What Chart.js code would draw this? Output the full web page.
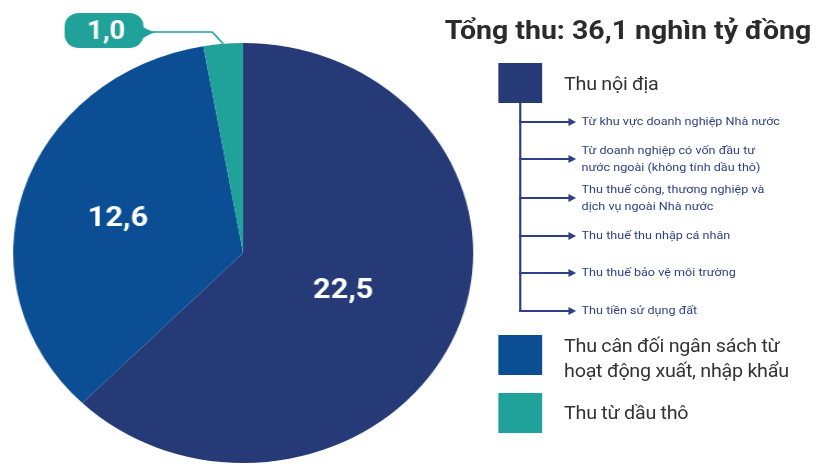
<!DOCTYPE html>
<html lang="vi">
<head>
<meta charset="utf-8">
<script src="https://cdn.jsdelivr.net/npm/chart.js@4.4.1/dist/chart.umd.min.js"></script>
<style>
  html, body { margin: 0; padding: 0; background: #ffffff; }
  body { width: 816px; height: 471px; overflow: hidden; }
  /* The whole layout is laid out on a 745px-wide stage and widened to 816px. */
  #stage {
    position: absolute; left: 0; top: 0;
    width: 745px; height: 471px;
    transform: scaleX(1.0953); transform-origin: 0 0;
    font-family: Roboto, "Noto Sans", sans-serif;
    filter: blur(0.35px);
  }
  #pieBox { position: absolute; left: 0; top: 0; width: 445px; height: 471px; }
  #title {
    position: absolute; left: 406px; top: 17px; white-space: nowrap;
    font-size: 26px; font-weight: 700; line-height: 1; color: #2b2b2b;
  }
  .swatch { position: absolute; width: 40px; height: 40px; }
  .main { position: absolute; left: 515px; color: #333333; font-size: 18px; letter-spacing: -0.25px; line-height: 25px; white-space: nowrap; }
  .sub { position: absolute; left: 531px; color: #2d3f85; font-size: 11.5px; line-height: 16px; white-space: nowrap; }
  .tree-v { position: absolute; left: 474px; top: 102px; width: 2px; background: #2d3f85; }
  .tree-h { position: absolute; left: 474px; height: 2px; width: 46px; background: #2d3f85; }
  .tree-h::after {
    content: ""; position: absolute; right: -6px; top: -3px;
    border-left: 7px solid #2d3f85; border-top: 4px solid transparent; border-bottom: 4px solid transparent;
  }
</style>
</head>
<body>
<div id="stage">
  <div id="pieBox"><canvas id="pie"></canvas></div>
  <div id="title"></div>
  <div id="legend"></div>
</div>
<script>
// Revenue breakdown, thousand billion VND
const categories = ['Thu nội địa', 'Thu cân đối ngân sách từ hoạt động xuất, nhập khẩu', 'Thu từ dầu thô'];
const categoryLines = [['Thu nội địa'], ['Thu cân đối ngân sách từ', 'hoạt động xuất, nhập khẩu'], ['Thu từ dầu thô']];
const revenue = [22.5, 12.6, 1.0];
const sliceColors = ['#263a78', '#0b4e94', '#20a29b'];
// Components of domestic revenue listed under the first legend entry
const domesticItems = [
  ['Từ khu vực doanh nghiệp Nhà nước'],
  ['Từ doanh nghiệp có vốn đầu tư', 'nước ngoài (không tính dầu thô)'],
  ['Thu thuế công, thương nghiệp và', 'dịch vụ ngoài Nhà nước'],
  ['Thu thuế thu nhập cá nhân'],
  ['Thu thuế bảo vệ môi trường'],
  ['Thu tiền sử dụng đất']
];

const fmt = v => v.toFixed(1).replace('.', ',');
const total = revenue.reduce((a, b) => a + b, 0);
document.getElementById('title').textContent = 'Tổng thu: ' + fmt(total) + ' nghìn tỷ đồng';

// ---- legend ----
const legend = document.getElementById('legend');
function add(tag, cls, style, text) {
  const el = document.createElement(tag);
  el.className = cls;
  Object.assign(el.style, style);
  if (text !== undefined) el.innerHTML = text;
  legend.appendChild(el);
  return el;
}
const swatchTops = [63, 335, 393];
const mainTops = [71, 333, 400];
categoryLines.forEach((lines, i) => {
  add('div', 'swatch', { left: '455px', top: swatchTops[i] + 'px', background: sliceColors[i] });
  add('div', 'main', { top: mainTops[i] + 'px' }, lines.join('<br>'));
});
const branchY = [122, 159, 198, 236, 273, 311];
add('div', 'tree-v', { height: (branchY[branchY.length - 1] - 102 + 1) + 'px' });
domesticItems.forEach((lines, i) => {
  const y = branchY[i];
  add('div', 'tree-h', { top: (y - 1) + 'px' });
  const h = lines.length * 16.5;
  add('div', 'sub', { top: (y - h / 2 - 0.5) + 'px', lineHeight: '16.5px' }, lines.join('<br>'));
});

// ---- value labels and the callout for the small slice ----
const sliceLabels = {
  id: 'sliceLabels',
  afterDatasetsDraw(chart, args, opts) {
    const ctx = chart.ctx;
    const meta = chart.getDatasetMeta(0);
    const values = chart.data.datasets[0].data;
    meta.data.forEach((arc, i) => {
      const p = arc.getProps(['x', 'y', 'startAngle', 'endAngle', 'outerRadius'], true);
      const mid = (p.startAngle + p.endAngle) / 2;
      const text = fmt(values[i]);
      ctx.save();
      ctx.fillStyle = '#ffffff';
      ctx.textAlign = 'center';
      ctx.textBaseline = 'middle';
      if (opts.inside[i] !== null) {
        const r = p.outerRadius * opts.inside[i];
        ctx.font = '700 28px Roboto, sans-serif';
        ctx.fillText(text, p.x + Math.cos(mid) * r, p.y + Math.sin(mid) * r + 1);
      } else {
        const ex = p.x + Math.cos(mid) * p.outerRadius;
        const ey = p.y + Math.sin(mid) * p.outerRadius;
        const b = opts.box;
        const color = chart.data.datasets[0].backgroundColor[i];
        const cy = b.y + b.h / 2;
        // leader line
        ctx.strokeStyle = color;
        ctx.lineWidth = 1.6;
        ctx.beginPath();
        ctx.moveTo(b.x + b.w + 8, cy + 1.5);
        ctx.lineTo(ex - 10, cy + 1.5);
        ctx.lineTo(ex, ey);
        ctx.stroke();
        // bubble
        ctx.fillStyle = color;
        ctx.beginPath();
        ctx.roundRect(b.x, b.y, b.w, b.h, 13);
        ctx.fill();
        ctx.beginPath();
        ctx.moveTo(b.x + b.w - 6, cy - 9);
        ctx.quadraticCurveTo(b.x + b.w + 2, cy, b.x + b.w + 11, cy + 1.5);
        ctx.quadraticCurveTo(b.x + b.w + 2, cy + 5, b.x + b.w - 6, cy + 12);
        ctx.closePath();
        ctx.fill();
        ctx.fillStyle = '#ffffff';
        ctx.font = '700 25px Roboto, sans-serif';
        ctx.fillText(text, b.x + b.w / 2 + 2, cy + 2);
      }
      ctx.restore();
    });
  }
};

new Chart(document.getElementById('pie'), {
  type: 'pie',
  data: {
    labels: categories,
    datasets: [{
      data: revenue,
      backgroundColor: sliceColors,
      borderWidth: 0,
      hoverOffset: 0
    }]
  },
  options: {
    responsive: true,
    maintainAspectRatio: false,
    animation: false,
    rotation: 0,
    layout: { padding: { left: 12, right: 13, top: 43, bottom: 8 } },
    events: [],
    plugins: {
      legend: { display: false },
      tooltip: { enabled: false },
      sliceLabels: { inside: [0.47, 0.57, null], box: { x: 59, y: 13, w: 72, h: 35 } }
    }
  },
  plugins: [sliceLabels]
});
</script>
</body>
</html>
